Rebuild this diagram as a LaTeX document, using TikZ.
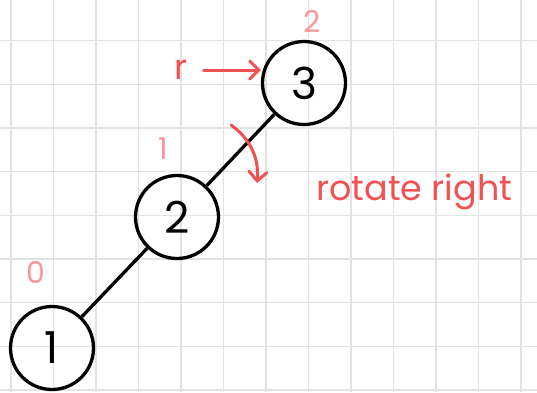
\documentclass[tikz,border=0pt]{standalone}
\usepackage{fontspec}
\setmainfont{Poppins}
\usetikzlibrary{arrows.meta}
\definecolor{penred}{RGB}{240,82,82}
\definecolor{penpink}{RGB}{247,152,152}
\definecolor{gridgray}{RGB}{226,226,226}
\tikzset{
  treenode/.style={circle, draw, line width=3.3pt, minimum size=83pt, inner sep=0pt,
    font=\fontsize{44}{44}\selectfont},
  height/.style={text=penpink, inner sep=0pt, font=\fontsize{30}{30}\selectfont},
  note/.style={text=penred, inner sep=0pt, font=\fontsize{35}{35}\selectfont},
  pen/.style={penred, line width=3pt, line cap=round,
    -{Straight Barb[length=9pt, width=18pt, line cap=round]}},
}
\begin{document}
\begin{tikzpicture}[x=1pt, y=-1pt]
    % Khung trang và nền trắng
    \useasboundingbox (0,0) rectangle (537,392);
    \fill[white] (0,0) rectangle (537,392);

    % 1. Lưới ô vuông
    \foreach \i in {0,...,12}
        \draw[gridgray, line width=1.5pt] ({11+42.5*\i},0) -- ++(0,392);
    \foreach \j in {0,...,8}
        \draw[gridgray, line width=1.5pt] (0,{40.7+43.66*\j}) -- ++(537,0);

    % 2. Ba nút của cây
    \node[treenode] (n3) at (304,83) {3};
    \node[treenode] (n2) at (177,217) {2};
    \node[treenode] (n1) at (52,348) {1};
    \draw[line width=3.3pt] (n3) -- (n2);
    \draw[line width=3.3pt] (n2) -- (n1);

    % 3. Chiều cao các nút
    \node[height] (h3) at (312,21) {2};
    \node[height] (h2) at (163,149) {1};
    \node[height] (h1) at (36,272) {0};

    % 4. Con trỏ r và mũi tên quay phải
    \node[note] (r) at (181,70) {r};
    \draw[pen, shorten <=16pt] (r) -- (r -| n3.west);
    \coordinate (turnA) at (231,125);
    \coordinate (turnB) at (257,183);
    \draw[pen] (turnA) .. controls (252,140) and (259,160) .. (turnB);
    \node[note, anchor=base west] (rot) at (316,200) {rotate right};

\end{tikzpicture}
\end{document}
